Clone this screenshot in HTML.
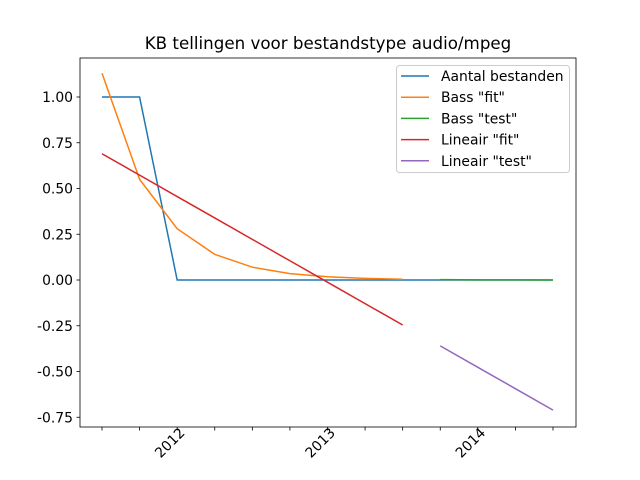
<!DOCTYPE html>
<html><head><meta charset="utf-8"><style>
body{margin:0;background:#fff}
svg{display:block;font-family:"DejaVu Sans","Liberation Sans",sans-serif}
</style></head><body>
<svg id="c" width="640" height="480"></svg>
<script>
const xCount = 13;
const xTickLabels = ["2012","2013","2014"];
const xTickLabelIdx = [2,6,10];
const yTicks = [1.00,0.75,0.50,0.25,0.00,-0.25,-0.50,-0.75];
const aantal = [1,1,0,0,0,0,0,0,0,0,0,0,0];
const bassFit = [1.13,0.55,0.28,0.14,0.07,0.035,0.018,0.009,0.004];
const bassTest = [0.002,0.001,0.0005,0.0002];
const linFit = [0.69,0.573,0.456,0.339,0.222,0.105,-0.012,-0.129,-0.246];
const linTest = [-0.36,-0.477,-0.594,-0.711];
const seriesNames = ['Aantal bestanden','Bass "fit"','Bass "test"','Lineair "fit"','Lineair "test"'];

const NS="http://www.w3.org/2000/svg";
const svg=document.getElementById('c');
const L=80,R=576,T=58,B=427;
const xs=i=>102+i*(553-102)/(xCount-1);
const ys=v=>280-v*183;
function el(t,a,p){const e=document.createElementNS(NS,t);for(const k in a)e.setAttribute(k,a[k]);(p||svg).appendChild(e);return e;}

const title=el('text',{x:328,y:49,'text-anchor':'middle','font-size':16.7});
title.textContent='KB tellingen voor bestandstype audio/mpeg';



const frame=el('rect',{x:L,y:T,width:R-L,height:B-T,fill:'none',stroke:'#000','stroke-width':0.8});



yTicks.forEach(v=>{
  el('line',{x1:L-3.5,x2:L,y1:ys(v),y2:ys(v),stroke:'#000','stroke-width':0.8});
  const t=el('text',{x:L-7,y:ys(v)+5,'text-anchor':'end','font-size':13.9});
  t.textContent=v.toFixed(2);
  
  
});
for(let i=0;i<xCount;i++) el('line',{x1:xs(i),x2:xs(i),y1:B,y2:B+3.5,stroke:'#000','stroke-width':0.8});
xTickLabels.forEach((s,k)=>{
  const x=xs(xTickLabelIdx[k]),y=B+8;
  const t=el('text',{x:x,y:y,'text-anchor':'end','font-size':13.9,transform:`rotate(-45 ${x} ${y}) translate(7 5)`});
  t.textContent=s;
  
  
});

function line(data,off,color,name){
  const p=el('polyline',{points:data.map((v,i)=>xs(i+off)+','+ys(v)).join(' '),fill:'none',stroke:color,'stroke-width':1.5});
  
  
}
line(aantal,0,'#1f77b4','aantal-bestanden-line');
line(bassFit,0,'#ff7f0e','bass-fit-line');
line(bassTest,9,'#2ca02c','bass-test-line');
line(linFit,0,'#d62728','lineair-fit-line');
line(linTest,9,'#9467bd','lineair-test-line');

const lg=el('g',{});


el('rect',{x:396.5,y:65.5,width:173,height:107,rx:3,fill:'#fff','fill-opacity':0.8,stroke:'#ccc'},lg);
const cols=['#1f77b4','#ff7f0e','#2ca02c','#d62728','#9467bd'];
seriesNames.forEach((n,i)=>{
  const y=76+i*21.2;
  el('line',{x1:401,x2:429,y1:y,y2:y,stroke:cols[i],'stroke-width':1.5},lg);
  const t=el('text',{x:441,y:y+5,'font-size':13.9},lg);
  t.textContent=n;
  
  
});
</script>
</body></html>
